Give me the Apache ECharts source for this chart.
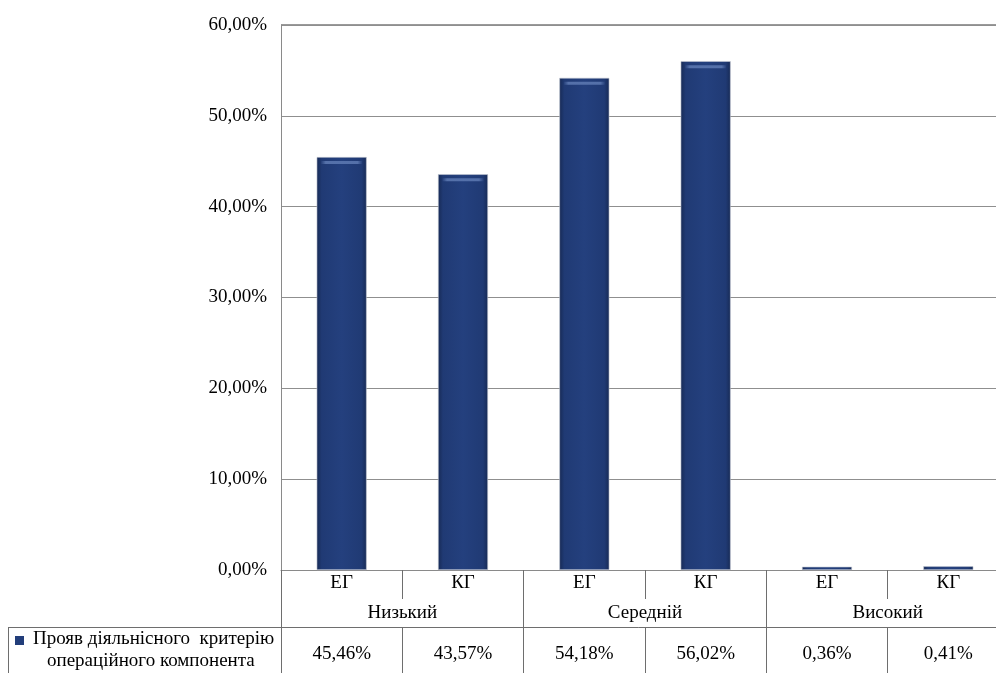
<!DOCTYPE html>
<html>
<head>
<meta charset="utf-8">
<script src="https://cdn.jsdelivr.net/npm/echarts@6/dist/echarts.min.js"></script>
<style>
  html, body { margin: 0; padding: 0; background: #fff; }
  #chart { width: 996px; height: 673px; }
</style>
</head>
<body>
<div id="chart"></div>
<script>
// Groups (levels) and sub-groups (experimental / control)
const levels = ['Низький', 'Середній', 'Високий'];
const groups = ['ЕГ', 'КГ', 'ЕГ', 'КГ', 'ЕГ', 'КГ'];
const seriesLines = ['Прояв діяльнісного  критерію', 'операційного компонента'];
const values = [45.46, 43.57, 54.18, 56.02, 0.36, 0.41];
const yTicks = { min: 0, max: 60, interval: 10 };

const fmt = v => v.toFixed(2).replace('.', ',') + '%';
const FONT = 'Liberation Serif';
const FS = 19;
const LINE = '#6e6e6e';
const BAR = '#223d7a';

const chart = echarts.init(document.getElementById('chart'));

const barFill = new echarts.graphic.LinearGradient(0, 0, 1, 0, [
  { offset: 0, color: '#172a55' },
  { offset: 0.1, color: '#203a74' },
  { offset: 0.5, color: '#24407e' },
  { offset: 0.9, color: '#203a74' },
  { offset: 1, color: '#172a55' }
]);
const shineFill = new echarts.graphic.LinearGradient(0, 0, 1, 0, [
  { offset: 0, color: 'rgba(90,118,175,0)' },
  { offset: 0.12, color: 'rgba(90,118,175,0.9)' },
  { offset: 0.88, color: 'rgba(90,118,175,0.9)' },
  { offset: 1, color: 'rgba(90,118,175,0)' }
]);

chart.setOption({
  animation: false,
  backgroundColor: '#ffffff',
  textStyle: { fontFamily: FONT },
  grid: { left: 281, top: 25, width: 728, height: 545, containLabel: false, outerBoundsMode: 'none' },
  xAxis: [
    {
      // sub-group row: ЕГ / КГ
      type: 'category',
      data: groups,
      position: 'bottom',
      boundaryGap: true,
      axisLine: { show: true, lineStyle: { color: '#8a8a8a', width: 1 } },
      axisTick: { show: true, interval: 0, length: 29, lineStyle: { color: LINE } },
      axisLabel: { interval: 0, margin: 4, fontSize: FS, color: '#000', fontFamily: FONT }
    },
    {
      // level row
      type: 'category',
      data: levels,
      position: 'bottom',
      boundaryGap: true,
      axisLine: { show: false },
      axisTick: { show: true, interval: 0, length: 57, lineStyle: { color: LINE } },
      axisLabel: { interval: 0, margin: 34, fontSize: FS, color: '#000', fontFamily: FONT }
    },
    {
      // data table row
      type: 'category',
      data: values.map(fmt),
      position: 'bottom',
      offset: 57,
      boundaryGap: true,
      axisLine: { show: true, lineStyle: { color: LINE, width: 1 } },
      axisTick: { show: true, interval: 0, length: 50, lineStyle: { color: LINE } },
      axisLabel: { interval: 0, margin: 18, fontSize: FS, color: '#000', fontFamily: FONT }
    }
  ],
  yAxis: {
    type: 'value',
    min: yTicks.min,
    max: yTicks.max,
    interval: yTicks.interval,
    axisLine: { show: true, lineStyle: { color: '#8a8a8a', width: 1 } },
    axisTick: { show: false },
    splitLine: { show: true, lineStyle: { color: '#8f8f8f', width: 1 } },
    axisLabel: { margin: 14, fontSize: FS, color: '#000', fontFamily: FONT, formatter: fmt }
  },
  graphic: [
    // heavier frame line along the top of the plot
    { type: 'line', shape: { x1: 281, y1: 25, x2: 996, y2: 25 }, style: { stroke: '#9a9a9a', lineWidth: 2 } },
    // table frame to the left of the plot: header line and left border
    { type: 'line', shape: { x1: 8, y1: 627.5, x2: 281, y2: 627.5 }, style: { stroke: LINE, lineWidth: 1 } },
    { type: 'line', shape: { x1: 8.5, y1: 627, x2: 8.5, y2: 673 }, style: { stroke: LINE, lineWidth: 1 } },
    // series key in the table row header
    { type: 'rect', shape: { x: 15, y: 636, width: 9, height: 9 }, style: { fill: BAR } },
    {
      type: 'text', left: 33, top: 630,
      style: { text: seriesLines[0], font: FS + 'px "' + FONT + '"', fill: '#000' }
    },
    {
      type: 'text', left: 47, top: 652,
      style: { text: seriesLines[1], font: FS + 'px "' + FONT + '"', fill: '#000' }
    }
  ],
  series: [
    {
      name: seriesLines.join(' '),
      type: 'bar',
      xAxisIndex: 0,
      data: values,
      barWidth: 50,
      z: 2,
      itemStyle: {
        color: barFill,
        borderColor: '#c4c9d4',
        borderWidth: 0.6
      }
    },
    {
      // bevel highlight near the top of each tall bar
      type: 'pictorialBar',
      xAxisIndex: 0,
      data: values.map(v => (v > 2 ? v : '-')),
      symbol: 'rect',
      symbolSize: [42, 3],
      symbolPosition: 'end',
      symbolOffset: [0, 4],
      z: 3,
      silent: true,
      itemStyle: { color: shineFill }
    }
  ]
});
</script>
</body>
</html>
